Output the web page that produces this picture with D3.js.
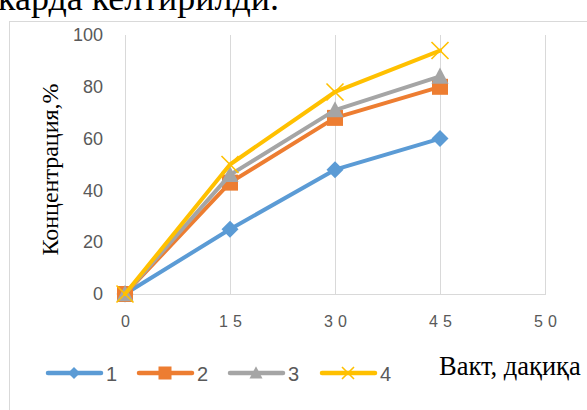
<!DOCTYPE html>
<html>
<head>
<meta charset="utf-8">
<script src="https://cdn.jsdelivr.net/npm/d3@7/dist/d3.min.js"></script>
<style>
  html, body { margin: 0; padding: 0; background: #fff; }
  svg { display: block; }
</style>
</head>
<body>
<svg id="chart" width="587" height="410"></svg>
<script>
// Time points (minutes) shown on the category axis
const categories = ["0", "15", "30", "45", "50"];
// Concentration, % for each sample
const series1 = [0, 25, 48, 60];
const series2 = [0, 43, 68, 80];
const series3 = [0, 46, 71, 84];
const series4 = [0, 50, 78, 94];
const seriesNames = ["1", "2", "3", "4"];
const yTicks = [0, 20, 40, 60, 80, 100];

const colors = ["#5B9BD5", "#ED7D31", "#A5A5A5", "#FFC000"];
const markers = ["diamond", "square", "triangle", "cross"];
const allSeries = [series1, series2, series3, series4];

const svg = d3.select("#chart");

// tail of the preceding paragraph line
svg.append("text")
  .attr("x", -2).attr("y", 10)
  .attr("font-family", "Liberation Serif, Times New Roman, serif")
  .attr("font-size", 36)
  .attr("fill", "#000")
  .text("карда келтирилди.");

// chart frame
svg.append("rect")
  .attr("x", 9.5).attr("y", 21.5)
  .attr("width", 600).attr("height", 420)
  .attr("fill", "#fff")
  .attr("stroke", "#d9d9d9").attr("stroke-width", 1);

const x = d3.scalePoint().domain(categories).range([125, 545]);
const y = d3.scaleLinear().domain([0, 100]).range([294, 35]);

// vertical gridlines at each category
svg.append("g").selectAll("line").data(categories).join("line")
  .attr("x1", d => x(d) + 0.5).attr("x2", d => x(d) + 0.5)
  .attr("y1", y(100)).attr("y2", y(0))
  .attr("stroke", "#d9d9d9").attr("stroke-width", 1);

// horizontal axis line
svg.append("line")
  .attr("x1", x(categories[0])).attr("x2", x(categories[categories.length - 1]) + 1)
  .attr("y1", y(0) + 0.5).attr("y2", y(0) + 0.5)
  .attr("stroke", "#d9d9d9").attr("stroke-width", 1);

// y tick labels
const yAxis = d3.axisLeft(y).tickValues(yTicks).tickSize(0).tickPadding(0);
const gy = svg.append("g").attr("transform", "translate(103,0)").call(yAxis);
gy.select(".domain").remove();
gy.selectAll("text")
  .attr("font-family", "Liberation Sans, Arial, sans-serif")
  .attr("font-size", 18)
  .attr("fill", "#595959");

// x tick labels (spaced digits)
const xAxis = d3.axisBottom(x).tickSize(0).tickPadding(0);
const gx = svg.append("g").attr("transform", "translate(0,316)").call(xAxis);
gx.select(".domain").remove();
gx.selectAll("text")
  .attr("font-family", "Liberation Sans, Arial, sans-serif")
  .attr("font-size", 16)
  .attr("letter-spacing", "5px")
  .attr("dx", "2.5")
  .attr("fill", "#595959");

// y axis title
svg.append("text")
  .attr("transform", `translate(58,${(y(0) + y(100)) / 2 + 5}) rotate(-90)`)
  .attr("text-anchor", "middle")
  .attr("font-family", "Liberation Serif, Times New Roman, serif")
  .attr("font-size", 24)
  .attr("fill", "#000")
  .text("Концентрация,%");

// x axis title
svg.append("text")
  .attr("x", 439).attr("y", 375)
  .attr("font-family", "Liberation Serif, Times New Roman, serif")
  .attr("font-size", 26.5)
  .attr("fill", "#000")
  .text("Вакт, дақиқа");

function drawMarker(g, type, cx, cy, s, color) {
  if (type === "diamond") {
    g.append("path")
      .attr("d", `M${cx},${cy - s} L${cx + s},${cy} L${cx},${cy + s} L${cx - s},${cy} Z`)
      .attr("fill", color);
  } else if (type === "square") {
    g.append("rect")
      .attr("x", cx - s).attr("y", cy - s)
      .attr("width", 2 * s).attr("height", 2 * s)
      .attr("fill", color);
  } else if (type === "triangle") {
    g.append("path")
      .attr("d", `M${cx},${cy - s * 1.05} L${cx + s},${cy + s * 0.85} L${cx - s},${cy + s * 0.85} Z`)
      .attr("fill", color);
  } else {
    g.append("path")
      .attr("d", `M${cx - s},${cy - s} L${cx + s},${cy + s} M${cx - s},${cy + s} L${cx + s},${cy - s}`)
      .attr("stroke", color).attr("stroke-width", 1.6).attr("fill", "none");
  }
}

const markerSize = [8.5, 8, 8.5, 8.5];
const line = d3.line().x((d, i) => x(categories[i])).y(d => y(d));

allSeries.forEach((vals, si) => {
  const g = svg.append("g");
  g.append("path")
    .datum(vals)
    .attr("d", line)
    .attr("fill", "none")
    .attr("stroke", colors[si])
    .attr("stroke-width", 4)
    .attr("stroke-linejoin", "round")
    .attr("stroke-linecap", "round");
  vals.forEach((v, i) => drawMarker(g, markers[si], x(categories[i]), y(v), markerSize[si], colors[si]));
});

// legend
const legendCenters = [74, 165, 256, 348];
const legendY = 373;
const legendMarker = [6, 6.5, 6.5, 6];
seriesNames.forEach((name, si) => {
  const g = svg.append("g");
  const cx = legendCenters[si];
  g.append("line")
    .attr("x1", cx - 26).attr("x2", cx + 27)
    .attr("y1", legendY).attr("y2", legendY)
    .attr("stroke", colors[si]).attr("stroke-width", 4.5)
    .attr("stroke-linecap", "round");
  drawMarker(g, markers[si], cx, legendY, legendMarker[si], colors[si]);
  g.append("text")
    .attr("x", cx + 32).attr("y", legendY + 7.5)
    .attr("font-family", "Liberation Sans, Arial, sans-serif")
    .attr("font-size", 20)
    .attr("fill", "#595959")
    .text(name);
});
</script>
</body>
</html>
